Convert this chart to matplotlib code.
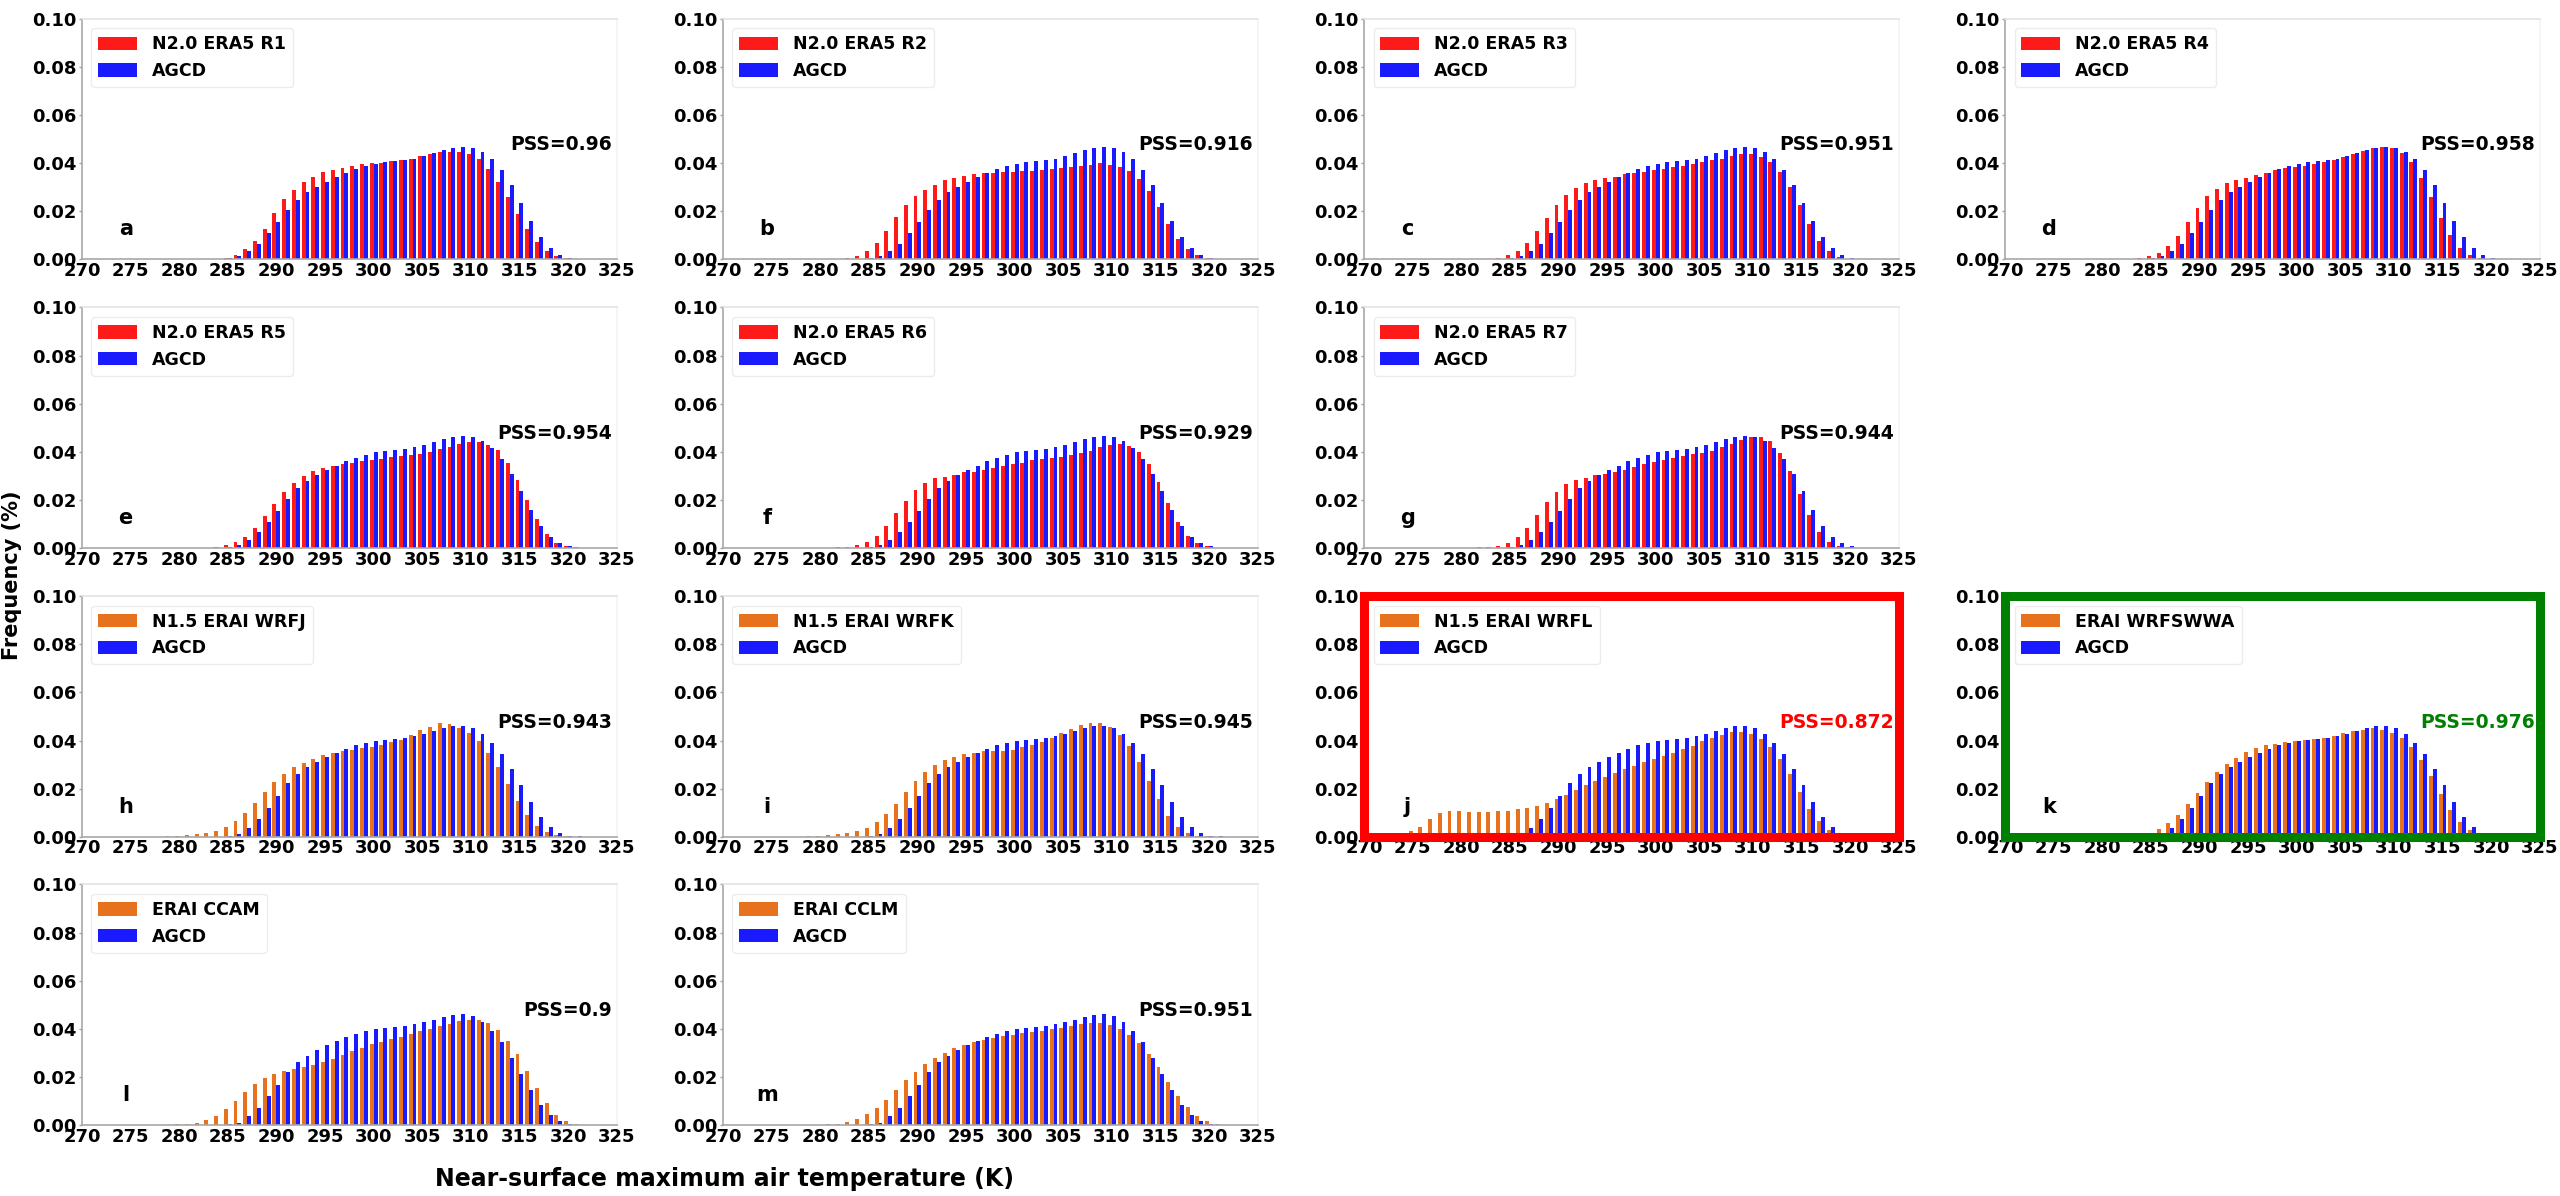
import numpy as np
import matplotlib
matplotlib.use("Agg")
import matplotlib.pyplot as plt

plt.rcParams['font.family'] = ['DejaVu Sans']
plt.rcParams['font.weight'] = 'bold'

# 1 K bins, 274 .. 321 K
temp_bins = np.arange(274, 322)

# AGCD observed frequency, ERA5-period (panels a-g)
agcd_era5 = [0, 0, 0, 0, 0, 0,
             0, 0, 0, 0, 0.0002, 0.0006, 0.0014, 0.0033, 0.0065, 0.0108,
             0.0155, 0.0205, 0.0248, 0.0278, 0.0302, 0.0323, 0.0343, 0.0360, 0.0376, 0.0387,
             0.0398, 0.0403, 0.0408, 0.0413, 0.0419, 0.0428, 0.0440, 0.0453, 0.0463, 0.0467,
             0.0462, 0.0446, 0.0416, 0.0370, 0.0307, 0.0236, 0.0160, 0.0093, 0.0046, 0.0019,
             0.0007, 0.0002]

# AGCD observed frequency, ERAI-period (panels h-m)
agcd_erai = [0, 0, 0, 0, 0, 0,
             0, 0, 0, 0, 0, 0.0003, 0.0010, 0.0036, 0.0072, 0.0120,
             0.0168, 0.0222, 0.0262, 0.0288, 0.0311, 0.0332, 0.0350, 0.0366, 0.0380, 0.0390,
             0.0399, 0.0404, 0.0408, 0.0412, 0.0419, 0.0427, 0.0438, 0.0450, 0.0459, 0.0461,
             0.0452, 0.0428, 0.0389, 0.0343, 0.0280, 0.0213, 0.0145, 0.0083, 0.0040, 0.0015,
             0.0005, 0.0001]

n20_r1 = [0, 0, 0, 0, 0, 0,
          0, 0, 0, 0.0001, 0.0003, 0.0006, 0.0018, 0.0042, 0.0075, 0.0128,
          0.0192, 0.0250, 0.0290, 0.0323, 0.0343, 0.0362, 0.0372, 0.0379, 0.0389, 0.0396,
          0.0399, 0.0401, 0.0407, 0.0411, 0.0417, 0.0428, 0.0438, 0.0445, 0.0447, 0.0447,
          0.0436, 0.0415, 0.0376, 0.0322, 0.0258, 0.0188, 0.0125, 0.0072, 0.0035, 0.0014,
          0.0004, 0.0001]

n20_r2 = [0, 0, 0, 0, 0, 0,
          0, 0, 0.0001, 0.0004, 0.0012, 0.0035, 0.0068, 0.0118, 0.0174, 0.0227,
          0.0263, 0.0289, 0.0310, 0.0330, 0.0339, 0.0347, 0.0354, 0.0358, 0.0360, 0.0362,
          0.0365, 0.0367, 0.0368, 0.0371, 0.0376, 0.0380, 0.0383, 0.0389, 0.0392, 0.0399,
          0.0394, 0.0385, 0.0367, 0.0334, 0.0286, 0.0217, 0.0148, 0.0086, 0.0043, 0.0017,
          0.0006, 0.0001]

n20_r3 = [0, 0, 0, 0, 0, 0,
          0, 0, 0, 0.0003, 0.0007, 0.0017, 0.0036, 0.0068, 0.0116, 0.0170,
          0.0226, 0.0268, 0.0295, 0.0316, 0.0328, 0.0337, 0.0344, 0.0353, 0.0360, 0.0365,
          0.0370, 0.0374, 0.0382, 0.0389, 0.0397, 0.0406, 0.0413, 0.0418, 0.0428, 0.0438,
          0.0438, 0.0424, 0.0403, 0.0361, 0.0302, 0.0224, 0.0145, 0.0077, 0.0033, 0.0011,
          0.0003, 0]

n20_r4 = [0, 0, 0, 0, 0, 0,
          0, 0, 0, 0.0003, 0.0006, 0.0013, 0.0028, 0.0057, 0.0098, 0.0155,
          0.0215, 0.0262, 0.0293, 0.0316, 0.0328, 0.0340, 0.0350, 0.0358, 0.0370, 0.0378,
          0.0383, 0.0389, 0.0396, 0.0404, 0.0413, 0.0426, 0.0439, 0.0450, 0.0461, 0.0467,
          0.0461, 0.0443, 0.0403, 0.0337, 0.0259, 0.0171, 0.0099, 0.0047, 0.0018, 0.0007,
          0.0002, 0]

n20_r5 = [0, 0, 0, 0, 0, 0,
          0, 0, 0, 0.0002, 0.0003, 0.0011, 0.0025, 0.0047, 0.0084, 0.0131,
          0.0185, 0.0234, 0.0270, 0.0300, 0.0320, 0.0333, 0.0341, 0.0348, 0.0355, 0.0360,
          0.0364, 0.0372, 0.0378, 0.0382, 0.0386, 0.0390, 0.0400, 0.0413, 0.0422, 0.0431,
          0.0439, 0.0439, 0.0429, 0.0406, 0.0354, 0.0283, 0.0199, 0.0121, 0.0057, 0.0021,
          0.0007, 0.0003]

n20_r6 = [0, 0, 0, 0, 0, 0,
          0, 0.0001, 0.0003, 0.0006, 0.0011, 0.0026, 0.0052, 0.0092, 0.0145, 0.0197,
          0.0241, 0.0270, 0.0290, 0.0297, 0.0304, 0.0314, 0.0316, 0.0325, 0.0334, 0.0341,
          0.0348, 0.0355, 0.0364, 0.0372, 0.0375, 0.0378, 0.0385, 0.0394, 0.0404, 0.0418,
          0.0429, 0.0431, 0.0426, 0.0400, 0.0350, 0.0276, 0.0187, 0.0107, 0.0050, 0.0020,
          0.0007, 0.0002]

n20_r7 = [0, 0, 0, 0, 0, 0,
          0, 0.0001, 0.0003, 0.0006, 0.0010, 0.0022, 0.0046, 0.0085, 0.0137, 0.0191,
          0.0234, 0.0265, 0.0283, 0.0291, 0.0302, 0.0309, 0.0316, 0.0326, 0.0337, 0.0348,
          0.0359, 0.0366, 0.0376, 0.0383, 0.0389, 0.0397, 0.0404, 0.0421, 0.0432, 0.0447,
          0.0460, 0.0461, 0.0444, 0.0396, 0.0319, 0.0224, 0.0137, 0.0067, 0.0027, 0.0010,
          0.0004, 0]

n15_wrfj = [0, 0, 0, 0, 0, 0.0003,
            0.0004, 0.0008, 0.0013, 0.0017, 0.0025, 0.0040, 0.0067, 0.0099, 0.0141, 0.0185,
            0.0226, 0.0261, 0.0289, 0.0308, 0.0325, 0.0339, 0.0350, 0.0357, 0.0362, 0.0367,
            0.0375, 0.0383, 0.0394, 0.0404, 0.0424, 0.0443, 0.0457, 0.0471, 0.0470, 0.0454,
            0.0431, 0.0399, 0.0350, 0.0289, 0.0219, 0.0149, 0.0089, 0.0045, 0.0018, 0.0006,
            0.0002, 0]

n15_wrfk = [0, 0, 0, 0, 0, 0.0003,
            0.0004, 0.0007, 0.0010, 0.0015, 0.0024, 0.0038, 0.0062, 0.0094, 0.0134, 0.0185,
            0.0232, 0.0271, 0.0300, 0.0318, 0.0332, 0.0343, 0.0350, 0.0355, 0.0357, 0.0358,
            0.0362, 0.0372, 0.0383, 0.0395, 0.0411, 0.0431, 0.0448, 0.0465, 0.0473, 0.0473,
            0.0458, 0.0425, 0.0379, 0.0310, 0.0232, 0.0155, 0.0087, 0.0041, 0.0015, 0.0004,
            0.0001, 0]

n15_wrfl = [0.0015, 0.0025, 0.0042, 0.0072, 0.0099, 0.0108,
            0.0107, 0.0104, 0.0103, 0.0104, 0.0107, 0.0108, 0.0114, 0.0121, 0.0129, 0.0142,
            0.0158, 0.0175, 0.0194, 0.0214, 0.0233, 0.0250, 0.0265, 0.0280, 0.0294, 0.0311,
            0.0322, 0.0335, 0.0347, 0.0363, 0.0379, 0.0397, 0.0412, 0.0425, 0.0435, 0.0436,
            0.0428, 0.0407, 0.0372, 0.0322, 0.0260, 0.0186, 0.0117, 0.0067, 0.0029, 0.0008,
            0.0002, 0]

erai_wrfswwa = [0, 0, 0, 0, 0, 0,
                0, 0, 0, 0, 0.0004, 0.0014, 0.0032, 0.0057, 0.0091, 0.0137,
                0.0183, 0.0229, 0.0270, 0.0302, 0.0327, 0.0352, 0.0369, 0.0380, 0.0387, 0.0393,
                0.0400, 0.0403, 0.0407, 0.0410, 0.0420, 0.0431, 0.0439, 0.0445, 0.0450, 0.0445,
                0.0432, 0.0411, 0.0372, 0.0317, 0.0253, 0.0179, 0.0113, 0.0060, 0.0028, 0.0011,
                0.0003, 0]

erai_ccam = [0, 0, 0, 0, 0, 0,
             0.0003, 0.0004, 0.0008, 0.0019, 0.0036, 0.0067, 0.0100, 0.0139, 0.0171, 0.0196,
             0.0213, 0.0225, 0.0231, 0.0242, 0.0250, 0.0263, 0.0274, 0.0289, 0.0306, 0.0322,
             0.0336, 0.0346, 0.0356, 0.0367, 0.0378, 0.0390, 0.0399, 0.0410, 0.0419, 0.0431,
             0.0436, 0.0438, 0.0424, 0.0396, 0.0350, 0.0294, 0.0226, 0.0154, 0.0090, 0.0043,
             0.0017, 0.0004]

erai_cclm = [0, 0, 0, 0, 0, 0,
             0, 0.0002, 0.0005, 0.0012, 0.0025, 0.0045, 0.0072, 0.0105, 0.0145, 0.0185,
             0.0220, 0.0252, 0.0278, 0.0300, 0.0318, 0.0332, 0.0344, 0.0354, 0.0362, 0.0370,
             0.0376, 0.0382, 0.0387, 0.0392, 0.0398, 0.0405, 0.0412, 0.0418, 0.0422, 0.0422,
             0.0415, 0.0400, 0.0376, 0.0341, 0.0295, 0.0240, 0.0180, 0.0122, 0.0073, 0.0036,
             0.0015, 0.0005]

model_names = ["N2.0 ERA5 R1", "N2.0 ERA5 R2", "N2.0 ERA5 R3", "N2.0 ERA5 R4",
               "N2.0 ERA5 R5", "N2.0 ERA5 R6", "N2.0 ERA5 R7",
               "N1.5 ERAI WRFJ", "N1.5 ERAI WRFK", "N1.5 ERAI WRFL", "ERAI WRFSWWA",
               "ERAI CCAM", "ERAI CCLM"]
model_freq = [n20_r1, n20_r2, n20_r3, n20_r4, n20_r5, n20_r6, n20_r7,
              n15_wrfj, n15_wrfk, n15_wrfl, erai_wrfswwa, erai_ccam, erai_cclm]
pss_values = ["0.96", "0.916", "0.951", "0.958", "0.954", "0.929", "0.944",
              "0.943", "0.945", "0.872", "0.976", "0.9", "0.951"]
panel_letters = list("abcdefghijklm")
# grid slot (row, col) of each panel
slots = [(0, 0), (0, 1), (0, 2), (0, 3),
         (1, 0), (1, 1), (1, 2),
         (2, 0), (2, 1), (2, 2), (2, 3),
         (3, 0), (3, 1)]
# panels drawn with a coloured frame: worst and best score
highlight = {"j": "red", "k": "green"}

RED = "#ff1a1a"
BLUE = "#1a1aff"
ORANGE = "#e8711e"

fig = plt.figure(figsize=(25.6, 11.96), dpi=100)

lefts = [0.0320, 0.2824, 0.5328, 0.7832]
bottoms = [0.7832, 0.5418, 0.3004, 0.0594]
width, height = 0.2089, 0.2011

bar_w = 0.4
for i, name in enumerate(model_names):
    row, col = slots[i]
    ax = fig.add_axes([lefts[col], bottoms[row], width, height])

    obs = agcd_era5 if i < 7 else agcd_erai
    mcol = RED if i < 7 else ORANGE

    ax.bar(temp_bins - bar_w / 2, model_freq[i], width=bar_w, color=mcol,
           linewidth=0, label=name)
    ax.bar(temp_bins + bar_w / 2, obs, width=bar_w, color=BLUE,
           linewidth=0, label="AGCD")

    ax.set_xlim(270, 325)
    ax.set_ylim(0, 0.1)
    ax.set_xticks(np.arange(270, 326, 5))
    ax.set_yticks(np.arange(0, 0.101, 0.02))
    ax.yaxis.set_major_formatter(matplotlib.ticker.FormatStrFormatter('%.2f'))
    ax.tick_params(axis='x', length=0, pad=2, labelsize=13)
    ax.tick_params(axis='y', length=2, width=1, color='#a0a0a0', pad=2, labelsize=13)
    for lab in ax.get_xticklabels() + ax.get_yticklabels():
        lab.set_fontweight('bold')

    # light frame: darker left/bottom, faint top/right
    ax.spines['left'].set_color('#a8a8a8')
    ax.spines['bottom'].set_color('#a8a8a8')
    ax.spines['top'].set_color('#e4e4e4')
    ax.spines['right'].set_color('#f4f4f4')
    for s in ax.spines.values():
        s.set_linewidth(1.2)

    letter = panel_letters[i]
    pss_color = 'black'
    if letter in highlight:
        pss_color = highlight[letter]
        for s in ax.spines.values():
            s.set_color(pss_color)
            s.set_linewidth(6.5)
            s.set_zorder(5)

    leg = ax.legend(loc='upper left', frameon=True, fancybox=True,
                    handlelength=2.2, handleheight=0.8, handletextpad=0.9,
                    borderaxespad=0.55, prop={'weight': 'bold', 'size': 12.5})
    leg.get_frame().set_edgecolor('#e8e8e8')
    leg.get_frame().set_linewidth(1.0)

    ax.text(274.5, 0.0125, letter, ha='center', va='center',
            fontsize=15, fontweight='bold')
    ax.text(324.5, 0.0476, "PSS=" + pss_values[i], ha='right', va='center',
            fontsize=13.5, fontweight='bold', color=pss_color)

fig.text(0.0045, 0.519, "Frequency (%)", rotation=90, ha='center', va='center',
         fontsize=15, fontweight='bold')
fig.text(0.283, 0.014, "Near-surface maximum air temperature (K)", ha='center',
         va='center', fontsize=17, fontweight='bold')

plt.savefig("out.png", dpi=100)
